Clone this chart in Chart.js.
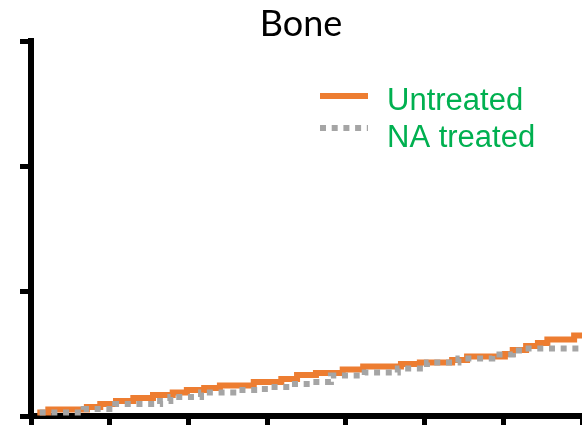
<!DOCTYPE html>
<html>
<head>
<meta charset="utf-8">
<script src="https://cdn.jsdelivr.net/npm/chart.js@4/dist/chart.umd.min.js"></script>
<style>
html,body{margin:0;padding:0;background:#fff;}
canvas{display:block;}
</style>
</head>
<body>
<canvas id="chart" width="582" height="425"></canvas>
<script>
// --------- данные (ступенчатые кривые) ---------
const seriesNames=['Untreated','NA treated'];
const untreatedX=[0.08,0.22,0.71,0.88,1.08,1.30,1.55,1.80,1.98,2.20,2.40,2.83,3.18,3.38,3.62,3.96,4.22,4.70,4.94,5.35,5.54,6.02,6.12,6.29,6.44,6.56,6.90,7.00];
const untreatedY=[0.028,0.052,0.072,0.096,0.120,0.144,0.168,0.188,0.208,0.224,0.244,0.272,0.296,0.328,0.344,0.372,0.396,0.416,0.428,0.448,0.476,0.496,0.528,0.560,0.584,0.612,0.644,0.644];
const naTreatedX=[0.11,0.67,1.07,1.64,1.77,2.16,2.61,2.88,3.04,3.29,3.58,3.81,4.24,4.66,5.03,5.43,5.86,6.12,6.24,6.98];
const naTreatedY=[0.028,0.056,0.096,0.120,0.152,0.188,0.208,0.216,0.232,0.256,0.272,0.324,0.348,0.380,0.428,0.460,0.492,0.524,0.540,0.548];
const xMax=7, yMax=3;

const ORANGE='#ED7D31', GRAY='#A5A5A5', GREEN='#00B050';

function pts(xs,ys){return xs.map((x,i)=>({x:x,y:ys[i]}));}

// --------- легенда внутри области графика ---------
const innerLegend={
  id:'innerLegend',
  afterDraw(chart){
    const ctx=chart.ctx;
    const rows=[{y:96,ty:110},{y:128,ty:147}];
    chart.data.datasets.forEach((ds,i)=>{
      const r=rows[i];
      ctx.save();
      ctx.strokeStyle=ds.borderColor;
      ctx.lineWidth=ds.borderWidth;
      ctx.lineCap='butt';
      ctx.setLineDash(ds.borderDash||[]);
      ctx.beginPath();ctx.moveTo(320,r.y);ctx.lineTo(368,r.y);ctx.stroke();
      ctx.setLineDash([]);
      ctx.fillStyle=GREEN;
      ctx.font='31px "Liberation Sans", Arial, sans-serif';
      ctx.textBaseline='alphabetic';
      ctx.fillText(ds.label,387,r.ty);
      ctx.restore();
    });
  }
};

const axisCommon={
  grid:{drawOnChartArea:false,drawTicks:true,color:'#000',tickColor:'#000',tickWidth:5},
  border:{display:true,color:'#000',width:6},
  ticks:{display:false,stepSize:1}
};

new Chart(document.getElementById('chart'),{
  type:'line',
  data:{
    datasets:[
      {label:seriesNames[0],data:pts(untreatedX,untreatedY),borderColor:ORANGE,borderWidth:6,stepped:'before',pointRadius:0,fill:false,order:1},
      {label:seriesNames[1],data:pts(naTreatedX,naTreatedY),borderColor:GRAY,borderWidth:6,borderDash:[6,5.7],stepped:'before',pointRadius:0,fill:false,order:0}
    ]
  },
  options:{
    responsive:false,
    animation:false,
    devicePixelRatio:1,
    layout:{padding:{left:20,right:0,top:0,bottom:0}},
    plugins:{
      legend:{display:false},
      tooltip:{enabled:false},
      title:{display:true,text:'Bone',color:'#000',padding:{top:8,bottom:0},
        font:{family:'Lato, "Open Sans", sans-serif',size:36,weight:'normal',lineHeight:0.92}}
    },
    scales:{
      x:{type:'linear',min:0,max:xMax,...axisCommon,grid:{...axisCommon.grid,tickLength:9}},
      y:{type:'linear',min:0,max:yMax,...axisCommon,grid:{...axisCommon.grid,tickLength:11}}
    }
  },
  plugins:[innerLegend]
});
</script>
</body>
</html>
